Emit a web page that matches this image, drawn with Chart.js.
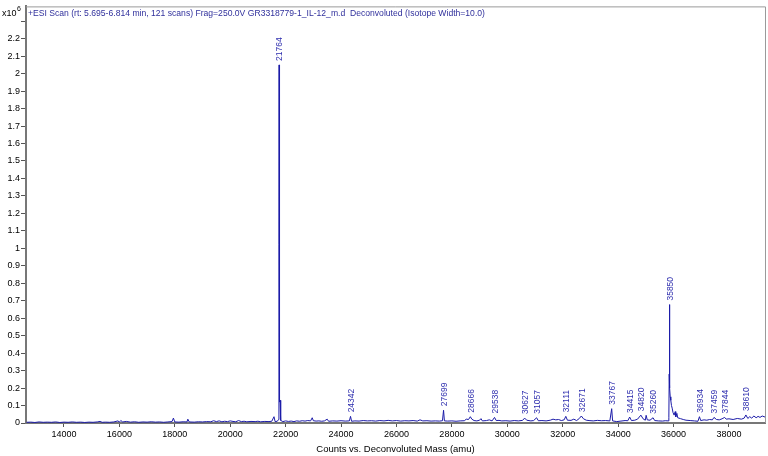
<!DOCTYPE html>
<html>
<head>
<meta charset="utf-8">
<title>Deconvoluted spectrum</title>
<script src="https://cdn.jsdelivr.net/npm/chart.js@4.4.1/dist/chart.umd.min.js"></script>
<style>
  html, body { margin: 0; padding: 0; background: #fff; }
  #spectrum { display: block; }
</style>
</head>
<body>
<canvas id="spectrum" width="768" height="456"></canvas>
<script>
const titleText = '+ESI Scan (rt: 5.695-6.814 min, 121 scans) Frag=250.0V GR3318779-1_IL-12_m.d  Deconvoluted (Isotope Width=10.0)';
const xAxisTitle = 'Counts vs. Deconvoluted Mass (amu)';

// deconvoluted mass (amu) and counts (x10^6)
const massAmu = [
  12650, 12800, 12950, 13100, 13250, 13400, 13550, 13700, 13850, 14000,
  14150, 14300, 14450, 14600, 14750, 14900, 15050, 15200, 15300, 15380,
  15500, 15650, 15800, 15950, 16000, 16050, 16120, 16250, 16400, 16550,
  16700, 16850, 17000, 17150, 17300, 17450, 17600, 17750, 17900, 17950,
  18000, 18150, 18300, 18440, 18470, 18520, 18700, 18850, 19000, 19150,
  19300, 19400, 19500, 19600, 19700, 19800, 19900, 20000, 20100, 20200,
  20300, 20400, 20500, 20600, 20750, 20900, 21000, 21100, 21250, 21400,
  21500, 21580, 21620, 21700, 21745, 21758, 21764, 21770, 21778, 21790,
  21800, 21812, 21830, 21900, 22000, 22100, 22200, 22300, 22400, 22500,
  22600, 22700, 22800, 22900, 22960, 23000, 23100, 23200, 23300, 23400,
  23500, 23550, 23700, 23850, 24000, 24150, 24300, 24342, 24380, 24500,
  24650, 24800, 24950, 25100, 25250, 25400, 25550, 25700, 25850, 26000,
  26150, 26300, 26450, 26600, 26750, 26850, 26950, 27100, 27250, 27400,
  27550, 27660, 27699, 27730, 27850, 28000, 28150, 28300, 28450, 28520,
  28600, 28666, 28720, 28800, 28900, 29000, 29050, 29100, 29250, 29350,
  29450, 29538, 29600, 29700, 29800, 29950, 30100, 30250, 30400, 30550,
  30627, 30700, 30850, 30950, 31057, 31120, 31250, 31400, 31550, 31650,
  31750, 31850, 31950, 32050, 32111, 32170, 32300, 32400, 32500, 32600,
  32671, 32750, 32850, 32950, 33100, 33250, 33400, 33550, 33700, 33767,
  33800, 33950, 34100, 34250, 34350, 34415, 34480, 34600, 34700, 34820,
  34900, 34980, 35010, 35050, 35150, 35260, 35320, 35450, 35600, 35700,
  35800, 35830, 35843, 35850, 35857, 35866, 35880, 35900, 35925, 35950,
  35980, 36020, 36060, 36080, 36120, 36150, 36250, 36350, 36450, 36600,
  36750, 36880, 36934, 36980, 37100, 37200, 37300, 37400, 37459, 37550,
  37650, 37750, 37844, 37900, 38000, 38150, 38300, 38450, 38550, 38610,
  38680, 38750, 38820, 38900, 38980, 39050, 39120, 39200, 39300
];
const intensityE6 = [
  0.004, 0.005, 0.003, 0.006, 0.004, 0.005, 0.004, 0.006, 0.003, 0.005,
  0.004, 0.006, 0.004, 0.005, 0.003, 0.005, 0.004, 0.006, 0.009, 0.004,
  0.005, 0.004, 0.006, 0.012, 0.005, 0.014, 0.006, 0.009, 0.005, 0.007,
  0.004, 0.006, 0.005, 0.007, 0.005, 0.006, 0.004, 0.006, 0.008, 0.028,
  0.006, 0.005, 0.007, 0.006, 0.022, 0.006, 0.005, 0.007, 0.006, 0.008,
  0.007, 0.013, 0.008, 0.012, 0.007, 0.010, 0.008, 0.012, 0.009, 0.007,
  0.014, 0.008, 0.010, 0.007, 0.009, 0.008, 0.010, 0.007, 0.009, 0.008,
  0.010, 0.036, 0.008, 0.010, 0.020, 1.020, 2.050, 0.950, 0.140, 0.120,
  0.130, 0.050, 0.015, 0.008, 0.012, 0.009, 0.011, 0.008, 0.012, 0.010,
  0.013, 0.011, 0.014, 0.012, 0.030, 0.013, 0.011, 0.012, 0.010, 0.012,
  0.022, 0.010, 0.012, 0.011, 0.013, 0.011, 0.012, 0.038, 0.010, 0.012,
  0.011, 0.014, 0.012, 0.013, 0.011, 0.014, 0.012, 0.015, 0.012, 0.014,
  0.011, 0.013, 0.012, 0.014, 0.011, 0.018, 0.012, 0.013, 0.011, 0.012,
  0.011, 0.013, 0.073, 0.012, 0.011, 0.012, 0.010, 0.012, 0.013, 0.022,
  0.020, 0.036, 0.022, 0.014, 0.012, 0.016, 0.025, 0.012, 0.014, 0.018,
  0.012, 0.032, 0.014, 0.015, 0.012, 0.013, 0.011, 0.014, 0.012, 0.015,
  0.028, 0.016, 0.012, 0.014, 0.030, 0.013, 0.014, 0.012, 0.016, 0.022,
  0.018, 0.020, 0.014, 0.018, 0.038, 0.016, 0.015, 0.022, 0.014, 0.026,
  0.040, 0.024, 0.016, 0.014, 0.012, 0.015, 0.013, 0.014, 0.012, 0.082,
  0.012, 0.008, 0.011, 0.014, 0.013, 0.034, 0.014, 0.016, 0.022, 0.045,
  0.024, 0.016, 0.044, 0.018, 0.016, 0.030, 0.014, 0.012, 0.011, 0.013,
  0.012, 0.030, 0.280, 0.678, 0.270, 0.200, 0.150, 0.130, 0.100, 0.085,
  0.060, 0.045, 0.065, 0.035, 0.055, 0.030, 0.025, 0.020, 0.016, 0.014,
  0.012, 0.010, 0.036, 0.014, 0.018, 0.016, 0.020, 0.018, 0.032, 0.020,
  0.018, 0.024, 0.032, 0.022, 0.024, 0.020, 0.026, 0.022, 0.028, 0.046,
  0.026, 0.036, 0.028, 0.040, 0.030, 0.038, 0.032, 0.040, 0.034
];

const peakLabels = [
  21764, 24342, 27699, 28666, 29538, 30627, 31057, 32111, 32671,
  33767, 34415, 34820, 35260, 35850, 36934, 37459, 37844, 38610
];

const xTickValues = [14000, 16000, 18000, 20000, 22000, 24000, 26000, 28000, 30000, 32000, 34000, 36000, 38000];
const yTickValues = [0, 0.1, 0.2, 0.3, 0.4, 0.5, 0.6, 0.7, 0.8, 0.9, 1, 1.1, 1.2, 1.3, 1.4, 1.5, 1.6, 1.7, 1.8, 1.9, 2, 2.1, 2.2, 2.3];

const traceColor = '#1c1ca8';
const labelColor = '#2e2eae';

Chart.defaults.font.family = 'Arial, "Liberation Sans", sans-serif';
Chart.defaults.color = '#000';

function peakHeight(mass) {
  const i = massAmu.indexOf(mass);
  return i >= 0 ? intensityE6[i] : 0;
}

const annotatePlugin = {
  id: 'annotate',
  afterDraw(chart) {
    const { ctx, chartArea, scales } = chart;
    const xs = scales.x;
    const ys = scales.y;

    ctx.save();
    // top + right frame
    ctx.strokeStyle = '#9a9a9a';
    ctx.lineWidth = 1;
    ctx.beginPath();
    ctx.moveTo(chartArea.left, chartArea.top + 0.5);
    ctx.lineTo(chartArea.right + 0.5, chartArea.top + 0.5);
    ctx.lineTo(chartArea.right + 0.5, chartArea.bottom);
    ctx.stroke();

    // scan title inside the frame
    ctx.fillStyle = '#30309c';
    ctx.font = '8.6px Arial, "Liberation Sans", sans-serif';
    ctx.textAlign = 'left';
    ctx.textBaseline = 'middle';
    ctx.fillText(titleText, chartArea.left + 2, chartArea.top + 7);

    // x10^6 multiplier
    ctx.fillStyle = '#000';
    ctx.font = '9px Arial, "Liberation Sans", sans-serif';
    ctx.textBaseline = 'alphabetic';
    ctx.fillText('x10', 2, 16);
    ctx.font = '7px Arial, "Liberation Sans", sans-serif';
    ctx.fillText('6', 17, 11);

    // peak labels, rotated
    ctx.fillStyle = labelColor;
    ctx.font = '8.5px Arial, "Liberation Sans", sans-serif';
    ctx.textAlign = 'left';
    ctx.textBaseline = 'middle';
    peakLabels.forEach(mass => {
      const px = xs.getPixelForValue(mass);
      const py = ys.getPixelForValue(peakHeight(mass));
      ctx.save();
      ctx.translate(px + 1, py - 4);
      ctx.rotate(-Math.PI / 2);
      ctx.fillText(String(mass), 0, 0);
      ctx.restore();
    });
    ctx.restore();
  }
};

const ctx = document.getElementById('spectrum');

new Chart(ctx, {
  type: 'scatter',
  data: {
    datasets: [{
      label: 'Deconvoluted',
      data: massAmu.map((m, i) => ({ x: m, y: intensityE6[i] })),
      showLine: true,
      borderColor: traceColor,
      backgroundColor: traceColor,
      borderWidth: 1,
      pointRadius: 0,
      tension: 0,
      fill: false
    }]
  },
  options: {
    responsive: false,
    animation: false,
    layout: { padding: { top: 2, right: 3, left: 0, bottom: 0 } },
    plugins: {
      legend: { display: false },
      tooltip: { enabled: false }
    },
    scales: {
      x: {
        type: 'linear',
        min: 12630,
        max: 39300,
        afterBuildTicks: scale => { scale.ticks = xTickValues.map(v => ({ value: v })); },
        afterFit: scale => { scale.height = 33; },
        ticks: {
          autoSkip: false,
          maxRotation: 0,
          padding: 2,
          font: { size: 9 },
          callback: value => String(value)
        },
        grid: { drawOnChartArea: false, drawTicks: true, tickLength: 4, color: '#555' },
        border: { color: '#777', width: 2 },
        title: {
          display: true,
          text: xAxisTitle,
          font: { size: 9.5 },
          padding: { top: 0, bottom: 1 }
        }
      },
      y: {
        type: 'linear',
        min: 0,
        max: 2.385,
        afterBuildTicks: scale => { scale.ticks = yTickValues.map(v => ({ value: v })); },
        afterFit: scale => { scale.width = 26; },
        ticks: {
          autoSkip: false,
          padding: 1,
          font: { size: 9 },
          callback: value => (value > 2.25 ? '' : String(Number(value.toFixed(1))))
        },
        grid: { drawOnChartArea: false, drawTicks: true, tickLength: 5, color: '#555' },
        border: { color: '#777', width: 2 }
      }
    }
  },
  plugins: [annotatePlugin]
});
</script>
</body>
</html>
